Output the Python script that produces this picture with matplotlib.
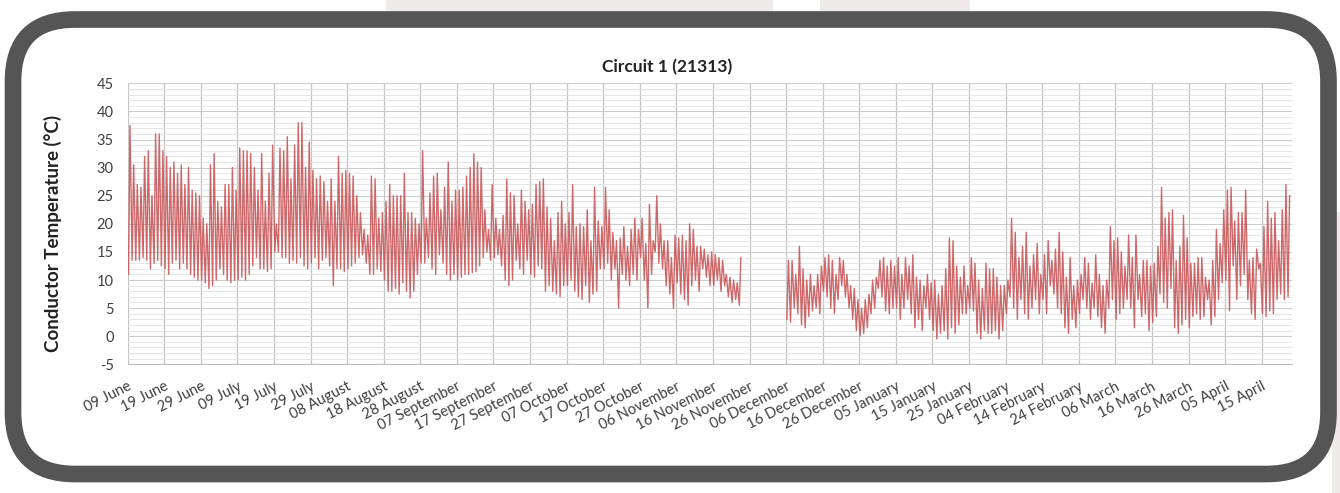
import numpy as np
import pandas as pd
import matplotlib
matplotlib.use("Agg")
import matplotlib.pyplot as plt
from matplotlib.patches import FancyBboxPatch, Rectangle

plt.rcParams['font.family'] = ['Lato', 'DejaVu Sans']
plt.rcParams['axes.unicode_minus'] = False

# daily max / min conductor temperature (deg C), logger running 09 Jun - 23 Nov
summer_start = "2013-06-09"
tmax_summer = [37.5, 30.5, 27, 26.5, 32, 33, 25, 36, 36, 33,
               32, 30, 31, 29, 30.5, 27, 30, 26, 25.5, 25,
               21, 20, 30.5, 32.5, 24, 23, 27, 27, 30, 26,
               33.5, 33, 33, 32.5, 30, 26, 32.5, 24, 29, 34,
               20, 33.5, 33, 35.5, 28, 34, 38, 38, 30, 34.5,
               29.5, 28, 28.5, 27.5, 24, 28, 24, 32, 29, 29.5,
               29, 28.5, 25, 22, 19, 18, 28.5, 28, 21, 22,
               24, 27, 25, 25, 25, 29, 22, 22, 21, 20,
               33, 21, 25.5, 28.5, 29, 22.5, 26.5, 31, 24, 26,
               26, 26.5, 28.5, 30, 32.5, 31, 30, 22.5, 19, 27,
               21, 19, 21.5, 28, 25.5, 25, 20, 26, 24, 22.5,
               23.5, 27, 27.5, 28, 23, 21, 17, 22, 24, 20,
               22, 27, 19.5, 20, 19.5, 22.5, 17, 26.5, 20.5, 19.5,
               26.5, 22.5, 18.5, 17, 17.5, 19.5, 16, 19, 21, 19,
               21, 16.5, 23.5, 17, 25, 20, 17, 17, 14, 18,
               17.5, 18, 17, 20, 19, 16, 16, 15.5, 14.5, 15,
               14.5, 14, 13.5, 11, 10.5, 10, 9.5, 14]
tmin_summer = [11, 13.5, 13.5, 13.5, 14, 13.5, 12, 13, 13.5, 12.5,
               12, 11, 13, 13.5, 12, 13, 12, 11, 10.5, 10,
               10, 9.5, 8.5, 9, 10, 12, 11, 10, 9.5, 10,
               10, 10.5, 10, 11, 12.5, 14, 12, 12, 11.5, 12,
               15, 15, 14, 14, 13, 13.5, 13, 14, 12.5, 12,
               13, 14, 12, 13.5, 14, 12.5, 9, 12, 12, 11.5,
               12, 12.5, 13, 14, 14.5, 13, 11, 11, 12, 11.5,
               10, 8, 8, 8.5, 7.5, 9.5, 8, 6.8, 8, 11,
               13, 13, 14, 12, 11, 14.5, 13, 11, 10, 11,
               10, 10.5, 11, 11, 11.3, 11.5, 12.5, 14, 15, 13.5,
               14, 14.5, 12.5, 10, 9, 10, 13.5, 12, 11, 13.5,
               11, 10.5, 12.5, 12, 8, 9, 8, 7.5, 7, 9,
               9, 10, 8, 7, 6.5, 9, 6, 7.5, 8, 12,
               12, 13, 10, 12, 5, 11, 10, 9, 11, 10,
               14, 10, 5, 11, 15, 13, 12, 9, 7.5, 5,
               9.5, 7.5, 6.5, 5.5, 9, 10, 8, 12, 10.5, 9,
               9, 10, 8, 9, 7, 6, 6.5, 5.5]

# second run after the outage, 06 Dec - 22 Apr
winter_start = "2013-12-06"
tmax_winter = [13.5, 13.5, 11, 16, 12, 10, 11, 9, 11, 12.5,
               14, 14.5, 13.5, 11, 14, 13.5, 11, 9, 8.5, 6.5,
               5, 6.5, 7.5, 10, 10.5, 13.5, 14, 12.5, 13.5, 12.5,
               14, 11, 14, 12.5, 14.5, 10.5, 10, 9, 11, 9.5,
               10, 7.5, 9, 12, 17.5, 17, 12.5, 10.5, 12.5, 9,
               14, 13, 10, 8.5, 13, 12, 12, 10.5, 9, 9,
               10, 21, 18.5, 14, 16, 18.5, 12.5, 14.5, 16.5, 11,
               14.5, 17, 13.5, 15.5, 18.5, 15, 10.5, 14, 9, 10,
               11, 14, 13, 9.5, 14.5, 11, 9, 10, 19.5, 17,
               17.5, 15, 12.5, 18, 14, 18, 11, 13.5, 13.5, 12.5,
               13, 16, 26.5, 21, 22, 22.5, 13.5, 16, 21.5, 17.5,
               13, 13, 14, 14, 10.5, 10, 13.5, 19, 16.5, 22.5,
               26, 26.5, 20.5, 22, 22, 26, 13.5, 14, 15.5, 13,
               19.5, 24, 21, 22, 17, 22.5, 27, 25]
tmin_winter = [3, 2.5, 5, 4, 2, 1.5, 3.5, 4.5, 5, 4,
               8, 7, 5, 4, 6.5, 9, 7, 5, 3, 1,
               0, 0.5, 1.5, 4, 5, 8.5, 7, 4.5, 4, 5,
               5, 3, 5, 6.5, 4, 1.5, 3, 1, 5, 3,
               1, -0.5, 0.5, 1, -0.5, 1.5, 0.5, 2, 4, 4,
               5, 4.5, 0.5, -0.5, 1, 0.5, 0.5, 1, -0.5, 1,
               4, 7, 5, 3, 6.5, 4, 3, 5, 6.5, 4,
               6.5, 4, 9, 7.5, 5, 4, 1.5, 0.5, 3, 1.5,
               4, 6.5, 5, 3, 5, 3.5, 1.5, 0.5, 5, 6.5,
               3, 4, 5, 6.5, 5, 1.5, 6.5, 3.5, 4, 1,
               2.5, 3.5, 7.5, 6, 5, 8.5, 1.5, 0.5, 2, 3,
               1.5, 3.5, 4, 3, 3.5, 6.5, 2, 3.5, 6.5, 9.5,
               10, 4.5, 12.5, 6.5, 9, 11, 6.5, 4, 3, 12,
               4, 3.5, 4.5, 4, 6.5, 7.5, 6.5, 7]

y_ticks = list(range(-5, 50, 5))
tick_dates = pd.date_range("2013-06-09", periods=32, freq="10D")
tick_labels = [d.strftime("%d %B") for d in tick_dates]

LINE_RED = "#C9585A"


def daily_trace(start, tmax, tmin):
    # early-morning low, mid-afternoon peak for every day
    days = pd.date_range(start, periods=len(tmax), freq="D")
    t, v = [], []
    for d, lo, hi in zip(days, tmin, tmax):
        t += [d + pd.Timedelta(hours=5), d + pd.Timedelta(hours=15)]
        v += [lo, hi]
    return t, v


fig = plt.figure(figsize=(13.4, 4.93), dpi=100)

# rounded frame and page background, in pixel units
bg = fig.add_axes([0, 0, 1, 1], zorder=0)
bg.set_xlim(0, 1340)
bg.set_ylim(493, 0)
bg.axis("off")
for x0, y0, w, h in [(386, 0, 387, 14), (820, 0, 150, 14), (1332, 212, 8, 281)]:
    bg.add_patch(Rectangle((x0, y0), w, h, facecolor="#eeebea", edgecolor="none"))
bg.add_patch(FancyBboxPatch((13, 19.5), 1315.5, 454.5,
                            boxstyle="round,pad=0,rounding_size=62",
                            facecolor="white", edgecolor="#555555", linewidth=12))

ax = fig.add_axes([127.7 / 1340, 1 - 364.3 / 493, 1164 / 1340, 281 / 493], zorder=1)
ax.set_facecolor("white")

for start, hi, lo in [(summer_start, tmax_summer, tmin_summer),
                      (winter_start, tmax_winter, tmin_winter)]:
    t, v = daily_trace(start, hi, lo)
    ax.plot(t, v, color=LINE_RED, lw=1.0, alpha=0.9, zorder=3)

ax.set_ylim(-5, 45)
ax.set_yticks(y_ticks)
ax.set_yticks(np.arange(-5, 46, 1), minor=True)
ax.set_xlim(pd.Timestamp("2013-06-09"), pd.Timestamp("2014-04-23 05:00"))
ax.set_xticks(tick_dates)
ax.set_xticklabels(tick_labels, rotation=27, ha="right", rotation_mode="anchor")

ax.grid(which="minor", axis="y", color="#e2e2e2", lw=0.6, zorder=0)
ax.grid(which="major", axis="y", color="#cdcdcd", lw=0.8, zorder=0)
ax.grid(which="major", axis="x", color="#c4c4c4", lw=0.9, zorder=0)
ax.tick_params(which="both", length=0, colors="#404040")
ax.tick_params(axis="x", labelsize=10.5, pad=11)
ax.tick_params(axis="y", labelsize=10.5, pad=10)
for side in ["top", "right", "left"]:
    ax.spines[side].set_visible(False)
ax.spines["bottom"].set_color("#bfbfbf")

fig.text(667 / 1340, 1 - 67 / 493, "Circuit 1 (21313)", ha="center", va="center",
         fontsize=12.5, fontweight="bold", color="#222222")
fig.text(53 / 1340, 1 - 233 / 493, "Conductor Temperature (\u00b0C)", rotation=90,
         ha="center", va="center", fontsize=13.5, fontweight="bold", color="#222222")

fig.savefig("out.png", dpi=100)
